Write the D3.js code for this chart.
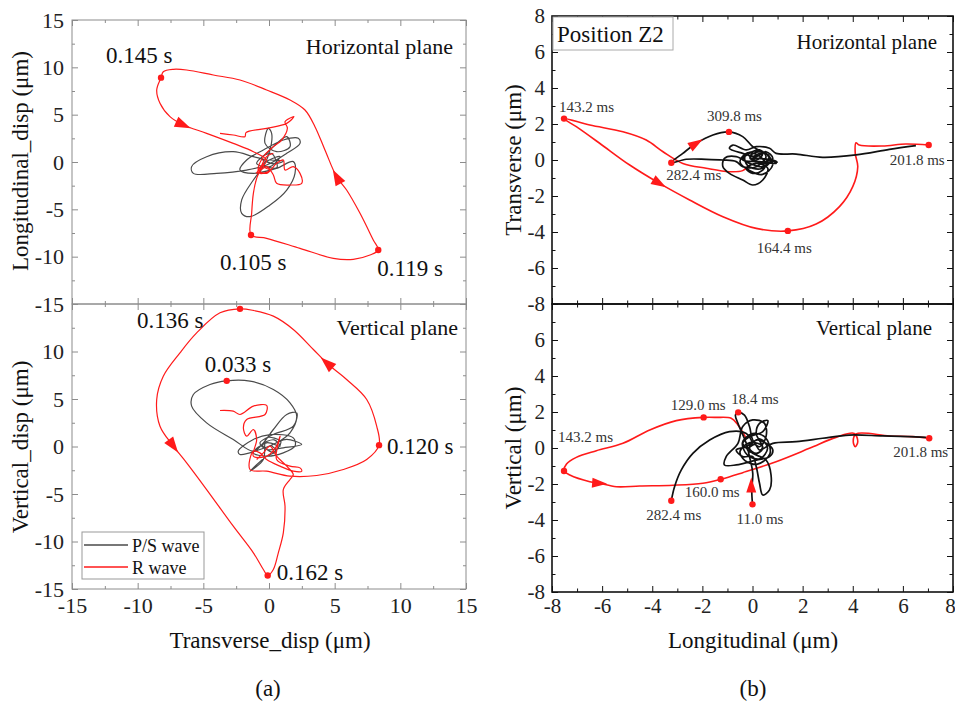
<!DOCTYPE html>
<html>
<head>
<meta charset="utf-8">
<script src="https://cdn.jsdelivr.net/npm/d3@7"></script>
<style>
  body { margin: 0; background: #fff; }
  svg { display: block; font-family: "Liberation Serif", "Times New Roman", serif; }
</style>
</head>
<body>
<div id="container"></div>
<script>
// ---------- DATA (displacement, µm) ----------
// (a) horizontal plane: [transverse, longitudinal]
let psA_H = [[-0.18,0.21],[-1.19,0.56],[-2.72,1.09],[-4.75,0.56],[-5.89,-0.49],[-5.76,-1.2],[-3.98,-1.2],[-1.7,-0.85],[-0.18,-0.32],[1.35,0.92],[2.36,1.97],[2.23,2.5],[1.09,2.32],[-0.43,1.27],[-1.7,0.21],[-2.21,-0.85],[-1.19,-1.2],[0.58,-0.67],[1.85,0.04],[1.98,-1.2],[1.35,-2.96],[0.08,-4.54],[-1.45,-5.77],[-2.08,-5.42],[-2.08,-4.01],[-1.19,-1.9],[-0.43,-0.49],[0.08,1.27],[0.2,3.03],[-0.05,3.56],[-0.3,1.97],[0.58,1.09],[1.6,1.62],[1.35,2.68],[-0.18,0.92],[-0.94,-0.14],[0.08,-0.49],[0.84,0.56],[0.5,0.5],[-0.5,-0.3],[0.6,-0.6],[0.2,0.9],[-0.6,0.4],[0.4,-0.2],[1.1,0.1],[0.08,0.21]];
let rA_H = [[-3.73,3.03],[-2.72,2.85],[-1.83,2.68],[-1.75,3.1],[-0.18,3.56],[1.35,4.08],[1.9,4.79],[1.22,4.26],[1.4,3.56],[0.96,2.32],[0.33,1.62],[-0.43,0.56],[-0.81,-0.85],[-0.18,-1.2],[0.58,-0.14],[1.09,0.21],[1.22,-0.85],[1.85,-0.49],[2.36,-1.2],[2.49,-2.25],[1.6,-2.43],[0.58,-2.25],[0.33,-1.37],[-0.18,-0.49],[-0.94,-1.2],[-0.43,-0.14],[-0.94,-1.73],[-1.19,-3.31],[-1.32,-5.42],[-1.37,-7.71],[-0.18,-8.06],[2.36,-9.12],[4.9,-10.18],[6.42,-10.28],[7.69,-9.82],[8.32,-9.3],[7.94,-8.24],[6.93,-5.42],[5.91,-2.96],[5.15,-1.55],[4.26,1.27],[3.5,3.73],[2.74,5.49],[1.6,6.55],[-0.18,7.61],[-2.21,8.66],[-4.24,9.19],[-6.27,9.72],[-7.28,9.79],[-8.05,9.54],[-8.22,8.91],[-8.55,7.61],[-8.3,6.2],[-7.54,4.79],[-6.52,3.91],[-4.75,3.03],[-2.72,1.97],[-1.19,1.09],[-0.18,0.21],[-0.43,-0.49],[0.08,-0.85],[-0.69,-1.2],[-0.18,0.56],[0.33,0.92]];
let marksA_H = [{t:"0.145 s",x:-8.22,y:8.91},{t:"0.105 s",x:-1.37,y:-7.71},{t:"0.119 s",x:8.32,y:-9.3}];
let arrowsA_H = [{x:-6.52,y:3.91,dx:2.79,dy:-1.76},{x:5.15,y:-1.55,dx:-1.65,dy:4.23}];

// (a) vertical plane: [transverse, vertical]
let psA_V = [[0.08,0.04],[0.58,0.39],[1.35,0.74],[2.49,0.21],[1.09,-0.14],[-0.18,-0.32],[-0.69,0.39],[0.33,1.26],[1.85,2.14],[2.11,3.54],[1.35,3.37],[0.33,1.79],[-0.43,0.39],[-1.19,-0.49],[-2.72,0.74],[-4.75,2.49],[-5.89,4.25],[-5.76,5.47],[-4.49,6.53],[-3.22,6.91],[-1.45,6.88],[0.33,6.0],[1.6,4.6],[2.11,3.19],[1.6,1.44],[0.58,0.39],[-0.69,-0.32],[-2.21,-0.84],[-2.34,-0.49],[-1.19,0.74],[0.08,1.26],[1.85,0.91],[1.98,0.04],[1.09,-0.67],[-0.18,-1.02],[-1.19,-0.67],[-0.18,0.39],[0.84,0.04],[0.4,0.7],[-0.5,0.2],[0.3,-0.6],[0.9,0.5],[-0.2,0.9],[-0.43,-1.37],[-1.45,-2.6],[-0.18,-1.02],[0.58,-0.49],[0.2,0.04]];
let rA_V = [[-3.73,3.79],[-2.72,3.72],[-2.21,3.37],[-1.19,4.25],[-0.18,4.32],[-0.3,3.37],[-1.7,2.84],[-1.95,1.96],[-1.7,1.09],[-1.19,1.79],[-0.94,0.74],[-1.19,-1.02],[-0.18,-1.02],[0.58,0.04],[0.84,1.09],[0.58,-1.37],[1.6,-2.07],[2.36,-2.25],[2.49,-2.6],[1.85,-2.6],[0.84,-2.07],[-0.18,-1.37],[-0.69,-0.67],[-1.19,-0.49],[-1.45,-2.42],[-0.18,-2.6],[1.6,-3.12],[3.63,-3.05],[5.66,-2.42],[7.44,-1.37],[8.38,0.14],[8.2,2.14],[7.44,4.95],[5.91,7.05],[4.52,8.63],[3.38,10.21],[1.85,12.32],[0.33,13.72],[-1.19,14.32],[-2.21,14.49],[-3.73,14.07],[-5.51,11.96],[-6.78,9.86],[-8.05,7.4],[-8.55,4.95],[-8.3,2.14],[-7.28,0.04],[-6.27,-1.72],[-4.75,-4.53],[-2.72,-8.39],[-1.19,-11.19],[-0.43,-12.95],[-0.1,-13.58],[0.33,-12.95],[0.71,-11.19],[1.09,-9.09],[1.22,-6.28],[1.09,-4.53],[1.6,-3.47],[1.85,-2.95],[1.35,-2.07],[0.58,-1.02],[0.08,0.04],[-0.43,-0.67],[-0.94,-1.37]];
let marksA_V = [{t:"0.136 s",x:-2.21,y:14.49},{t:"0.033 s",x:-3.22,y:6.91},{t:"0.120 s",x:8.38,y:0.14},{t:"0.162 s",x:-0.1,y:-13.58}];
let arrowsA_V = [{x:-7.28,y:0.04,dx:2.03,dy:-3.86},{x:4.39,y:8.81,dx:-2.53,dy:3.16}];

// (b) horizontal plane: [longitudinal, transverse]
let blackB_H = [[6.52,0.8],[5.46,0.59],[4.13,0.28],[2.8,0.15],[1.74,0.33],[0.94,0.37],[0.68,0.65],[0.15,0.74],[-0.25,0.56],[-0.78,0.83],[-0.92,0.65],[-0.39,0.37],[0.15,0.19],[0.54,0.46],[0.81,0.09],[0.41,-0.37],[-0.12,-0.19],[-0.65,0.19],[-1.12,0.09],[-1.18,-0.37],[-0.92,-0.74],[-0.39,-1.11],[0.01,-1.39],[0.41,-1.11],[0.61,-0.46],[0.15,-0.19],[-0.25,-0.46],[0.01,-0.74],[0.41,-0.56],[0.68,0.0],[0.94,-0.19],[0.28,-0.09],[-0.39,0.0],[-0.12,0.37],[0.28,0.56],[0.54,0.19],[0.15,-0.37],[-0.39,-0.37],[-0.65,-0.09],[-1.18,0.0],[-1.85,0.04],[-2.64,0.04],[-3.24,-0.15],[-2.78,0.37],[-2.24,0.93],[-1.58,1.39],[-0.94,1.56],[-0.39,1.3],[0.01,0.74],[0.41,0.37],[0.15,0.0],[-0.12,0.19],[0.28,0.46],[0.68,0.19],[0.41,-0.19],[0.01,0.0],[0.15,0.28],[0.5,0.4],[0.7,-0.1],[0.3,-0.5],[-0.2,-0.3],[-0.3,0.2],[0.1,0.5],[0.6,0.3],[0.8,-0.3],[0.4,-0.8],[-0.1,-0.6],[-0.5,-0.1],[-0.2,0.4],[0.3,0.2],[0.5,-0.2],[0.2,-0.1],[-0.1,0.1],[0.9,-0.05],[1.0,-0.15]];
let redB_H = [[-0.19,-0.37],[-0.39,-0.59],[-0.92,-0.65],[-1.85,-0.46],[-2.78,-0.19],[-3.57,0.46],[-4.24,1.11],[-5.17,1.57],[-6.49,1.94],[-7.52,2.3],[-7.03,1.85],[-6.1,0.93],[-4.9,-0.28],[-3.71,-1.3],[-2.51,-2.22],[-1.18,-3.15],[0.15,-3.8],[1.41,-3.94],[2.54,-3.56],[3.47,-2.59],[4.0,-1.48],[4.2,-0.37],[4.1,0.37],[4.13,0.96],[4.26,0.83],[5.19,0.78],[6.12,0.89],[7.03,0.83]];
let marksB_H = [{t:"143.2 ms",x:-7.52,y:2.3},{t:"309.8 ms",x:-0.94,y:1.56},{t:"282.4 ms",x:-3.24,y:-0.15},{t:"164.4 ms",x:1.41,y:-3.94},{t:"201.8 ms",x:7.03,y:0.83}];
let arrowsB_H = [{x:-3.71,y:-1.3,dx:2.39,dy:-1.94},{x:-2.24,y:0.93,dx:1.2,dy:1.02}];

// (b) vertical plane: [longitudinal, vertical]
let blackB_V1 = [[0.0,-3.13],[-0.03,-2.33],[0.01,-1.41],[-0.12,-0.48],[-0.25,0.26],[-0.58,1.37],[-0.68,1.83],[-0.57,1.98],[-0.32,1.83],[-0.12,1.19],[0.01,0.44],[0.28,0.07],[0.54,0.63],[0.48,1.37],[0.01,1.56],[-0.39,1.19],[-0.58,0.26],[-1.05,-0.48],[-1.12,-0.94],[-0.65,-0.94],[0.15,-0.67],[0.68,-0.48],[0.81,-0.11],[0.54,0.26],[0.15,0.44],[-0.12,-0.02],[0.15,-0.3],[0.41,-0.02],[0.15,0.81],[0.28,1.37],[0.61,1.52],[0.41,0.91],[-0.12,0.63],[-0.39,0.26],[0.01,-0.3],[0.54,-0.67],[0.74,-1.5],[0.68,-2.33],[0.41,-2.61],[0.28,-1.96],[0.15,-1.04],[0.01,-0.48],[-0.39,-0.48],[-0.65,-0.11],[-0.25,0.07],[0.3,0.5],[0.6,0.0],[0.3,-0.6],[-0.2,-0.4],[-0.4,0.3],[0.0,0.8],[0.5,0.6],[0.7,-0.3],[0.2,-0.9],[-0.3,-0.7],[-0.5,-0.2],[-0.1,0.3],[0.4,0.1],[0.2,-0.3],[-0.2,-0.1],[0.1,0.2],[0.28,-0.11],[0.81,0.26],[1.74,0.35],[2.8,0.54],[3.86,0.72],[5.19,0.67],[6.25,0.63],[6.92,0.59]];
let blackB_V2 = [[0.01,0.26],[-0.25,0.81],[-0.92,0.91],[-1.71,0.44],[-2.38,-0.3],[-2.84,-1.22],[-3.11,-2.15],[-3.24,-2.93]];
let redB_V = [[-0.25,0.54],[-0.58,1.28],[-0.85,1.65],[-1.45,1.7],[-1.95,1.7],[-3.04,1.52],[-4.1,1.0],[-5.17,0.26],[-6.23,-0.15],[-7.03,-0.52],[-7.42,-0.89],[-7.52,-1.28],[-7.29,-1.5],[-6.49,-1.87],[-6.1,-1.96],[-5.43,-2.15],[-4.5,-2.11],[-3.17,-2.07],[-1.98,-1.96],[-1.27,-1.74],[-0.39,-1.37],[0.94,-0.76],[2.27,-0.02],[3.33,0.59],[4.06,0.81],[4.2,0.35],[4.1,0.07],[4.02,0.35],[4.13,0.78],[5.46,0.67],[6.39,0.63],[7.05,0.54]];
let marksB_V = [{t:"143.2 ms",x:-7.52,y:-1.28},{t:"129.0 ms",x:-1.95,y:1.7},{t:"18.4 ms",x:-0.57,y:1.98},{t:"160.0 ms",x:-1.27,y:-1.74},{t:"282.4 ms",x:-3.24,y:-2.93},{t:"11.0 ms",x:0.0,y:-3.13},{t:"201.8 ms",x:7.05,y:0.54}];
let arrowsB_V = [{x:-6.1,y:-1.96,dx:1,dy:-0.1},{x:-0.05,y:-2.06,dx:0,dy:1}];

let ticksA = [-15, -10, -5, 0, 5, 10, 15];
let minorA = [-12.5, -7.5, -2.5, 2.5, 7.5, 12.5];
let ticksB = [-8, -6, -4, -2, 0, 2, 4, 6, 8];
let minorB = [-7, -5, -3, -1, 1, 3, 5, 7];

// ---------- SVG ----------
let w = 955, h = 703;
let svg = d3.select("#container").append("svg").attr("width", w).attr("height", h);

let xA = d3.scaleLinear().domain([-15, 15]).range([72, 466]);
let yA1 = d3.scaleLinear().domain([-15, 15]).range([304, 20]);
let yA2 = d3.scaleLinear().domain([-15, 15]).range([589, 304]);
let xB = d3.scaleLinear().domain([-8, 8]).range([552, 953]);
let yB1 = d3.scaleLinear().domain([-8, 8]).range([304, 16]);
let yB2 = d3.scaleLinear().domain([-8, 8]).range([592, 304]);

let RED = "#ff1a1a";

function styleAxis(g, color, size) {
  g.attr("font-family", null).attr("font-size", size)
  g.select(".domain").remove()
  g.selectAll("line").attr("stroke", color)
  g.selectAll("text").attr("fill", "#222")
}

function drawAxes(x, y, o) {
  let xl = x.range()[0], xr = x.range()[1], yb = y.range()[0], yt = y.range()[1];
  let fmt = d => (o.skipTop && d === o.major[o.major.length - 1]) ? "" : String(d);
  // left (labels)
  svg.append("g").attr("transform", `translate(${xl},0)`)
    .call(d3.axisLeft(y).tickValues(o.major).tickSize(-o.big).tickPadding(o.padY).tickFormat(fmt))
    .call(g => styleAxis(g, o.color, o.font));
  svg.append("g").attr("transform", `translate(${xl},0)`)
    .call(d3.axisLeft(y).tickValues(o.minor).tickSize(-o.small).tickFormat(""))
    .call(g => styleAxis(g, o.color, o.font));
  // right and top
  [[o.major, o.big], [o.minor, o.small]].forEach(([v, s]) => {
    svg.append("g").attr("transform", `translate(${xr},0)`)
      .call(d3.axisRight(y).tickValues(v).tickSize(-s).tickFormat(""))
      .call(g => styleAxis(g, o.color, o.font));
    svg.append("g").attr("transform", `translate(0,${yt})`)
      .call(d3.axisTop(x).tickValues(v).tickSize(-s).tickFormat(""))
      .call(g => styleAxis(g, o.color, o.font));
  });
  // bottom
  let gb = svg.append("g").attr("transform", `translate(0,${yb})`)
    .call(d3.axisBottom(x).tickValues(o.major).tickSize(-o.big).tickPadding(o.padX)
      .tickFormat(o.showX ? (d => String(d)) : ""))
    .call(g => styleAxis(g, o.color, o.font));
  if (o.showX && o.lastShift) {
    gb.selectAll("text").filter(d => d === o.major[o.major.length - 1]).attr("dx", o.lastShift);
  }
  svg.append("g").attr("transform", `translate(0,${yb})`)
    .call(d3.axisBottom(x).tickValues(o.minor).tickSize(-o.small).tickFormat(""))
    .call(g => styleAxis(g, o.color, o.font));
  // frame
  svg.append("rect").attr("x", xl).attr("y", yt).attr("width", xr - xl).attr("height", yb - yt)
    .attr("fill", "none").attr("stroke", o.color).attr("stroke-width", o.frameW);
}

function drawTrace(x, y, data, color, width) {
  let line = d3.line().x(d => x(d[0])).y(d => y(d[1])).curve(d3.curveCatmullRom.alpha(0.5));
  svg.append("path").attr("d", line(data)).attr("fill", "none")
    .attr("stroke", color).attr("stroke-width", width).attr("stroke-linejoin", "round");
}

function drawArrows(x, y, arrows, len, wid) {
  svg.selectAll(null).data(arrows).enter().append("path")
    .attr("d", `M${len / 2},0 L${-len / 2},${-wid / 2} L${-len / 2},${wid / 2} Z`)
    .attr("fill", RED)
    .attr("transform", d => {
      let a = Math.atan2(y(d.y + d.dy) - y(d.y), x(d.x + d.dx) - x(d.x)) * 180 / Math.PI;
      return `translate(${x(d.x)},${y(d.y)}) rotate(${a})`;
    });
}

function drawMarks(x, y, marks, offsets, r, size, fill) {
  svg.selectAll(null).data(marks).enter().append("circle")
    .attr("cx", d => x(d.x)).attr("cy", d => y(d.y)).attr("r", r).attr("fill", RED);
  svg.selectAll(null).data(marks).enter().append("text")
    .attr("x", (d, i) => x(d.x) + offsets[i][0]).attr("y", (d, i) => y(d.y) + offsets[i][1])
    .attr("font-size", size).attr("fill", fill).text(d => d.t);
}

// ---------- (a) ----------
let optA = {major: ticksA, minor: minorA, big: 6, small: 3, color: "#8c8c8c", frameW: 1, font: 22, padY: 8, padX: 8};
drawAxes(xA, yA1, Object.assign({}, optA, {showX: false}));
drawAxes(xA, yA2, Object.assign({}, optA, {showX: true, skipTop: true}));

drawTrace(xA, yA1, psA_H, "#4a4a4a", 1.2);
drawTrace(xA, yA1, rA_H, RED, 1.2);
drawTrace(xA, yA2, psA_V, "#4a4a4a", 1.2);
drawTrace(xA, yA2, rA_V, RED, 1.2);
drawArrows(xA, yA1, arrowsA_H, 16, 11);
drawArrows(xA, yA2, arrowsA_V, 16, 11);
drawMarks(xA, yA1, marksA_H, [[-55, -15], [-31, 35], [-1, 26]], 3.2, 23, "#111");
drawMarks(xA, yA2, marksA_V, [[-103, 19], [-22, -9], [8, 9], [9, 4]], 3.2, 23, "#111");

svg.append("text").attr("x", 453).attr("y", 54).attr("text-anchor", "end").attr("font-size", 22).attr("fill", "#111").text("Horizontal plane");
svg.append("text").attr("x", 458).attr("y", 335).attr("text-anchor", "end").attr("font-size", 22).attr("fill", "#111").text("Vertical plane");

// legend
let lg = svg.append("g");
lg.append("rect").attr("x", 82).attr("y", 532).attr("width", 122).attr("height", 47)
  .attr("fill", "#fff").attr("stroke", "#999").attr("stroke-width", 1);
[["P/S wave", "#4a4a4a"], ["R wave", RED]].forEach(([t, c], i) => {
  lg.append("line").attr("x1", 84).attr("x2", 128).attr("y1", 545 + i * 22).attr("y2", 545 + i * 22)
    .attr("stroke", c).attr("stroke-width", 1.3);
  lg.append("text").attr("x", 132).attr("y", 552 + i * 22).attr("font-size", 18).attr("fill", "#111").text(t);
});

svg.append("text").attr("transform", "translate(28,161) rotate(-90)").attr("text-anchor", "middle")
  .attr("font-size", 23).attr("fill", "#111").text("Longitudinal_disp (μm)");
svg.append("text").attr("transform", "translate(28,447) rotate(-90)").attr("text-anchor", "middle")
  .attr("font-size", 23).attr("fill", "#111").text("Vertical_disp (μm)");
svg.append("text").attr("x", 270).attr("y", 648).attr("text-anchor", "middle")
  .attr("font-size", 23).attr("fill", "#111").text("Transverse_disp (μm)");
svg.append("text").attr("x", 268).attr("y", 696).attr("text-anchor", "middle")
  .attr("font-size", 23).attr("fill", "#111").text("(a)");

// ---------- (b) ----------
let optB = {major: ticksB, minor: minorB, big: 6, small: 3.5, color: "#111", frameW: 1.6, font: 21, padY: 7, padX: 6};
drawAxes(xB, yB1, Object.assign({}, optB, {showX: false}));
drawAxes(xB, yB2, Object.assign({}, optB, {showX: true, skipTop: true, lastShift: -3}));

drawTrace(xB, yB1, redB_H, RED, 1.6);
drawTrace(xB, yB1, blackB_H, "#111", 1.7);
drawTrace(xB, yB2, redB_V, RED, 1.6);
drawTrace(xB, yB2, blackB_V1, "#111", 1.7);
drawTrace(xB, yB2, blackB_V2, "#111", 1.7);
drawArrows(xB, yB1, arrowsB_H, 15, 10);
drawArrows(xB, yB2, arrowsB_V, 15, 10);
drawMarks(xB, yB1, marksB_H, [[-5, -7], [-22, -11], [-5, 17], [-31, 22], [-39, 20]], 3.2, 15, "#333");
drawMarks(xB, yB2, marksB_V, [[-6, -29], [-33, -7], [-7, -8], [-36, 18], [-25, 19], [-16, 20], [-36, 19]], 3.2, 15, "#333");

svg.append("rect").attr("x", 553).attr("y", 17).attr("width", 120).attr("height", 33)
  .attr("fill", "#fff").attr("stroke", "#aaa").attr("stroke-width", 1);
svg.append("text").attr("x", 557).attr("y", 42).attr("font-size", 23).attr("fill", "#111").text("Position Z2");
svg.append("text").attr("x", 937).attr("y", 49).attr("text-anchor", "end").attr("font-size", 21).attr("fill", "#111").text("Horizontal plane");
svg.append("text").attr("x", 932).attr("y", 335).attr("text-anchor", "end").attr("font-size", 21).attr("fill", "#111").text("Vertical plane");

svg.append("text").attr("transform", "translate(521,160) rotate(-90)").attr("text-anchor", "middle")
  .attr("font-size", 23).attr("fill", "#111").text("Transverse (μm)");
svg.append("text").attr("transform", "translate(521,448) rotate(-90)").attr("text-anchor", "middle")
  .attr("font-size", 23).attr("fill", "#111").text("Vertical (μm)");
svg.append("text").attr("x", 753).attr("y", 648).attr("text-anchor", "middle")
  .attr("font-size", 23).attr("fill", "#111").text("Longitudinal (μm)");
svg.append("text").attr("x", 753).attr("y", 696).attr("text-anchor", "middle")
  .attr("font-size", 23).attr("fill", "#111").text("(b)");
</script>
</body>
</html>
